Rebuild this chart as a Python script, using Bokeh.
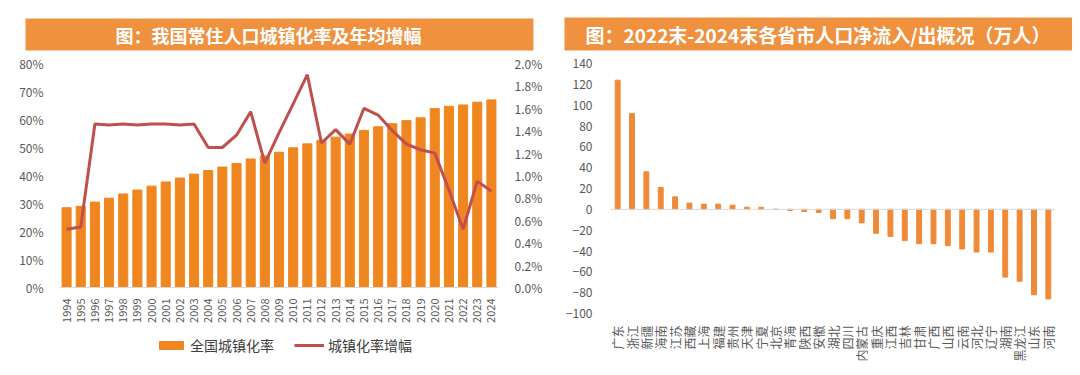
import math
from bokeh.plotting import figure
from bokeh.models import (Range1d, LinearAxis, FixedTicker, PrintfTickFormatter, Legend,
                          LegendItem, Span, Title, ColumnDataSource, FactorRange)
from bokeh.layouts import row, column
from bokeh.embed import file_html
from bokeh.resources import INLINE

# ---------------- data ----------------
years = ["1994", "1995", "1996", "1997", "1998", "1999", "2000", "2001", "2002", "2003",
         "2004", "2005", "2006", "2007", "2008", "2009", "2010", "2011", "2012", "2013",
         "2014", "2015", "2016", "2017", "2018", "2019", "2020", "2021", "2022", "2023", "2024"]
urban_rate = [28.5, 29.0, 30.5, 31.9, 33.4, 34.8, 36.2, 37.7, 39.1, 40.5,
              41.8, 43.0, 44.3, 45.9, 47.0, 48.3, 49.9, 51.3, 52.6, 53.7,
              54.8, 56.1, 57.4, 58.5, 59.6, 60.6, 63.9, 64.7, 65.2, 66.2, 67.0]
urban_growth = [0.52, 0.54, 1.46, 1.45, 1.46, 1.45, 1.46, 1.46, 1.45, 1.46,
                1.25, 1.25, 1.36, 1.57, 1.11, 1.38, 1.64, 1.90, 1.29, 1.41,
                1.28, 1.60, 1.54, 1.40, 1.28, 1.23, 1.20, 0.87, 0.52, 0.95, 0.86]
left_ticks = [0, 10, 20, 30, 40, 50, 60, 70, 80]
right_ticks = [0.0, 0.2, 0.4, 0.6, 0.8, 1.0, 1.2, 1.4, 1.6, 1.8, 2.0]

provinces = ["广东", "浙江", "新疆", "海南", "江苏", "西藏", "上海", "福建", "贵州", "天津",
             "宁夏", "北京", "青海", "陕西", "安徽", "湖北", "四川", "内蒙古", "重庆", "江西",
             "吉林", "甘肃", "广西", "山西", "云南", "河北", "辽宁", "湖南", "黑龙江", "山东", "河南"]
net_flow = [124, 92, 36, 21, 12, 6, 5, 5, 4, 2,
            2, 0, -1, -2, -3, -9, -9, -13, -23, -26,
            -30, -33, -33, -35, -38, -41, -41, -65, -69, -82, -86]
flow_ticks = [-100, -80, -60, -40, -20, 0, 20, 40, 60, 80, 100, 120, 140]

title_left = "图：我国常住人口城镇化率及年均增幅"
title_right = "图：2022末-2024末各省市人口净流入/出概况（万人）"
legend_bar = "全国城镇化率"
legend_line = "城镇化率增幅"

# ---------------- styles ----------------
FONT = "Noto Sans CJK SC"
BANNER = "#F0913F"
BAR = "#F0861F"
BAR2 = "#EE8A38"
LINE = "#C0504D"
TXT = "#595959"


def add_banner(p, text, offset, pad_l, pad_r, size):
    p.add_layout(Title(text=text, align="left", offset=offset, standoff=26,
                       text_color="white", text_font=FONT, text_font_size=size,
                       text_font_style="bold", background_fill_color=BANNER,
                       padding=dict(left=pad_l, right=pad_r, top=3, bottom=3)), "above")


def style_axis(ax, size="12px"):
    ax.axis_line_color = None
    ax.major_tick_line_color = None
    ax.minor_tick_line_color = None
    ax.major_label_text_color = TXT
    ax.major_label_text_font = FONT
    ax.major_label_text_font_size = size


# ---------------- left chart ----------------
src = ColumnDataSource(dict(year=years, rate=urban_rate, growth=urban_growth))
p1 = figure(width=545, height=327, x_range=FactorRange(*years), y_range=Range1d(0, 80),
            toolbar_location=None, output_backend="svg",
            min_border_left=59, min_border_right=47, min_border_top=63, min_border_bottom=40,
            outline_line_color=None, background_fill_color="white")
p1.extra_y_ranges = {"r": Range1d(0, 2)}
p1.vbar(x="year", top="rate", width=0.64, source=src, color=BAR)
p1.line(x="year", y="growth", source=src, y_range_name="r", line_color=LINE, line_width=3)
p1.add_layout(LinearAxis(y_range_name="r"), "right")
p1.xgrid.visible = False
p1.ygrid.visible = False

p1.yaxis[0].ticker = FixedTicker(ticks=left_ticks)
p1.yaxis[0].formatter = PrintfTickFormatter(format="%d%%")
p1.yaxis[1].ticker = FixedTicker(ticks=right_ticks)
p1.yaxis[1].formatter = PrintfTickFormatter(format="%.1f%%")
for ax in p1.yaxis:
    style_axis(ax)
    ax.major_label_standoff = 10
style_axis(p1.xaxis[0], "11px")
p1.xaxis[0].axis_line_color = "#D9D9D9"
p1.xaxis[0].major_label_orientation = math.pi / 2
p1.xaxis[0].major_label_standoff = 5
add_banner(p1, title_left, -34, 90, 112, "18px")

# legend strip below the left chart (its renderers are hidden; only the legend shows)
lg = figure(width=545, height=40, x_range=FactorRange(*years), y_range=Range1d(0, 80),
            x_axis_type=None, y_axis_type=None, toolbar_location=None, output_backend="svg",
            min_border_left=59, min_border_right=47, min_border_top=0, min_border_bottom=4,
            outline_line_color=None, background_fill_color="white")
lg.xgrid.visible = False
lg.ygrid.visible = False
leg_bar = lg.vbar(x="year", top="rate", width=0.64, source=src, color=BAR, visible=False)
leg_line = lg.line(x="year", y="growth", source=src, line_color=LINE, line_width=3,
                   visible=False)
legend = Legend(items=[LegendItem(label=legend_bar, renderers=[leg_bar]),
                       LegendItem(label=legend_line, renderers=[leg_line])],
                orientation="horizontal", location=(97, 8),
                border_line_color=None, background_fill_alpha=0,
                inactive_fill_alpha=0,
                label_text_font=FONT, label_text_font_size="14px", label_text_color="#404040",
                glyph_width=30, glyph_height=10, spacing=20, label_standoff=4,
                margin=0, padding=0)
lg.add_layout(legend, "center")

# ---------------- right chart ----------------
src2 = ColumnDataSource(dict(prov=provinces, flow=net_flow))
p2 = figure(width=527, height=367, x_range=FactorRange(*provinces), y_range=Range1d(-100, 140),
            toolbar_location=None, output_backend="svg",
            min_border_left=65, min_border_right=17, min_border_top=63, min_border_bottom=54,
            outline_line_color=None, background_fill_color="white")
p2.vbar(x="prov", top="flow", width=0.34, source=src2, color=BAR2)
p2.add_layout(Span(location=0, dimension="width", line_color="#D9D9D9", line_width=1))
p2.xgrid.visible = False
p2.ygrid.visible = False
p2.yaxis[0].ticker = FixedTicker(ticks=flow_ticks)
style_axis(p2.yaxis[0])
p2.yaxis[0].major_label_standoff = 12
style_axis(p2.xaxis[0], "12px")
p2.xaxis[0].major_label_orientation = math.pi / 2
p2.xaxis[0].major_label_standoff = 6
add_banner(p2, title_right, -46, 21, 27, "19px")

layout = row(column(p1, lg), column(p2))

open("out.html", "w").write(file_html(layout, INLINE))
